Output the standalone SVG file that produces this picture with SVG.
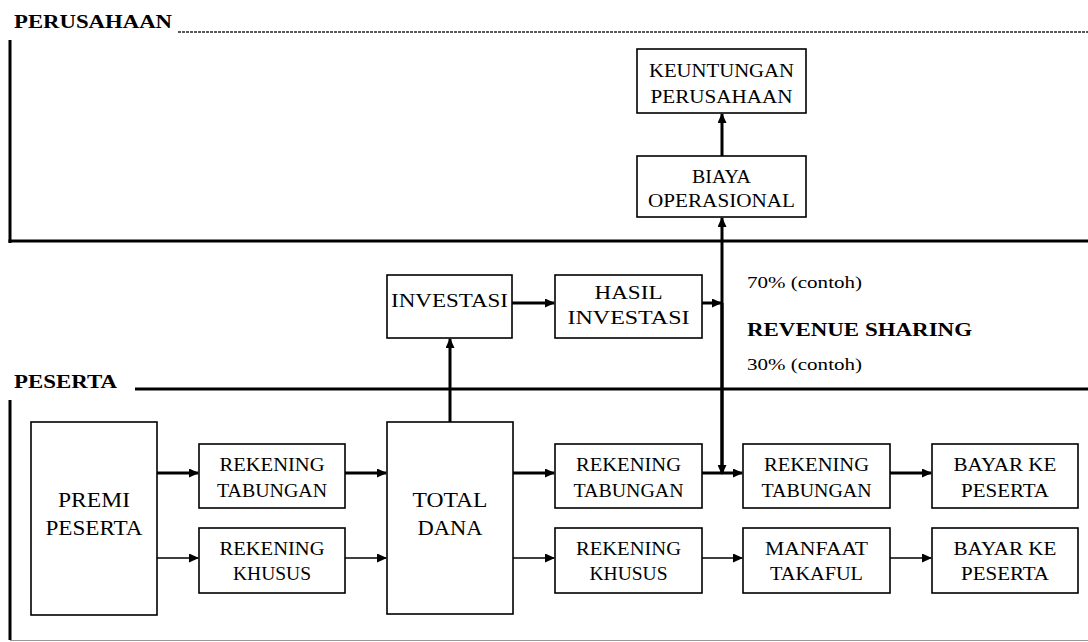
<svg xmlns="http://www.w3.org/2000/svg" width="1088" height="642" viewBox="0 0 1088 642">
<style>
.box{fill:#fff;stroke:#000;stroke-width:1.6}
.t{font-family:"Liberation Serif","Times New Roman",serif;font-size:18px;fill:#000;text-anchor:middle}
.big{font-size:21px}
.hd{font-family:"Liberation Serif","Times New Roman",serif;font-size:19px;font-weight:bold;fill:#000}
.lbl{font-family:"Liberation Serif","Times New Roman",serif;font-size:17px;fill:#000}
.thick{stroke:#000;stroke-width:3;fill:none}
.thin{stroke:#000;stroke-width:1.5;fill:none}
.frame{stroke:#000;stroke-width:3;fill:none}
</style>
<defs>
<marker id="ah" markerUnits="userSpaceOnUse" markerWidth="10" markerHeight="9" refX="9" refY="4.5" orient="auto">
<path d="M0,0 L10,4.5 L0,9 z" fill="#000"/>
</marker>
</defs>
<rect width="1088" height="642" fill="#fff"/>

<g id="frames">
<text class="hd" x="14" y="28" textLength="158" lengthAdjust="spacingAndGlyphs">PERUSAHAAN</text>
<line x1="178" y1="32" x2="1088" y2="32" stroke="#222" stroke-width="1.5" stroke-dasharray="3,1"/>
<line class="frame" x1="10" y1="40" x2="10" y2="243"/>
<line class="frame" x1="8.5" y1="241" x2="1088" y2="241"/>
<text class="hd" x="14" y="388" textLength="103" lengthAdjust="spacingAndGlyphs">PESERTA</text>
<line class="frame" x1="135" y1="389" x2="1088" y2="389"/>
<line class="frame" x1="10" y1="400" x2="10" y2="640"/>
<line x1="10" y1="640.5" x2="1088" y2="640.5" stroke="#999" stroke-width="1"/>
</g>

<g id="labels">
<text class="lbl" x="747" y="288" textLength="115" lengthAdjust="spacingAndGlyphs">70% (contoh)</text>
<text class="hd" x="747" y="336" textLength="225" lengthAdjust="spacingAndGlyphs">REVENUE SHARING</text>
<text class="lbl" x="747" y="370" textLength="115" lengthAdjust="spacingAndGlyphs">30% (contoh)</text>
</g>

<g id="connectors">
<line class="thick" x1="722" y1="156" x2="722" y2="114" marker-end="url(#ah)"/>
<line class="thick" x1="722" y1="473" x2="722" y2="218" marker-end="url(#ah)"/>
<line class="thick" x1="722" y1="303" x2="722" y2="474" marker-end="url(#ah)"/>
<line class="thick" x1="512" y1="303" x2="554" y2="303" marker-end="url(#ah)"/>
<line class="thick" x1="702" y1="303" x2="721" y2="303" marker-end="url(#ah)"/>
<line class="thick" x1="450" y1="422" x2="450" y2="339" marker-end="url(#ah)"/>
<line class="thick" x1="157" y1="473" x2="198" y2="473" marker-end="url(#ah)"/>
<line class="thin" x1="157" y1="558" x2="198" y2="558" marker-end="url(#ah)"/>
<line class="thick" x1="345" y1="473" x2="386" y2="473" marker-end="url(#ah)"/>
<line class="thin" x1="345" y1="558" x2="386" y2="558" marker-end="url(#ah)"/>
<line class="thick" x1="513" y1="473" x2="554" y2="473" marker-end="url(#ah)"/>
<line class="thin" x1="513" y1="558" x2="554" y2="558" marker-end="url(#ah)"/>
<line class="thick" x1="702" y1="473" x2="742" y2="473" marker-end="url(#ah)"/>
<line class="thin" x1="702" y1="558" x2="742" y2="558" marker-end="url(#ah)"/>
<line class="thick" x1="890" y1="473" x2="931" y2="473" marker-end="url(#ah)"/>
<line class="thin" x1="890" y1="558" x2="931" y2="558" marker-end="url(#ah)"/>
</g>

<g id="keuntungan">
<rect class="box" x="637" y="49" width="169" height="64"/>
<text class="t" x="721.5" y="77" textLength="145" lengthAdjust="spacingAndGlyphs">KEUNTUNGAN</text>
<text class="t" x="721.5" y="103" textLength="142" lengthAdjust="spacingAndGlyphs">PERUSAHAAN</text>
</g>
<g id="biaya">
<rect class="box" x="637" y="156" width="169" height="61"/>
<text class="t" x="721.5" y="183" textLength="59" lengthAdjust="spacingAndGlyphs">BIAYA</text>
<text class="t" x="721.5" y="207" textLength="147" lengthAdjust="spacingAndGlyphs">OPERASIONAL</text>
</g>
<g id="investasi">
<rect class="box" x="387" y="275" width="125" height="63"/>
<text class="t" x="449.5" y="307" textLength="117" lengthAdjust="spacingAndGlyphs">INVESTASI</text>
</g>
<g id="hasil">
<rect class="box" x="555" y="275" width="147" height="63"/>
<text class="t" x="628.5" y="299" textLength="68" lengthAdjust="spacingAndGlyphs">HASIL</text>
<text class="t" x="628.5" y="324" textLength="122" lengthAdjust="spacingAndGlyphs">INVESTASI</text>
</g>
<g id="premi">
<rect class="box" x="31" y="422" width="126" height="193"/>
<text class="t big" x="94" y="507" textLength="72" lengthAdjust="spacingAndGlyphs">PREMI</text>
<text class="t big" x="94" y="535" textLength="97" lengthAdjust="spacingAndGlyphs">PESERTA</text>
</g>
<g id="rek-tabungan-1">
<rect class="box" x="199" y="444" width="146" height="64"/>
<text class="t" x="272" y="471" textLength="105" lengthAdjust="spacingAndGlyphs">REKENING</text>
<text class="t" x="272" y="496.5" textLength="110" lengthAdjust="spacingAndGlyphs">TABUNGAN</text>
</g>
<g id="rek-khusus-1">
<rect class="box" x="199" y="528" width="146" height="65"/>
<text class="t" x="272" y="555" textLength="105" lengthAdjust="spacingAndGlyphs">REKENING</text>
<text class="t" x="272" y="580" textLength="78" lengthAdjust="spacingAndGlyphs">KHUSUS</text>
</g>
<g id="total-dana">
<rect class="box" x="387" y="422" width="126" height="192"/>
<text class="t big" x="450" y="507" textLength="75" lengthAdjust="spacingAndGlyphs">TOTAL</text>
<text class="t big" x="450" y="535" textLength="65" lengthAdjust="spacingAndGlyphs">DANA</text>
</g>
<g id="rek-tabungan-2">
<rect class="box" x="555" y="444" width="147" height="64"/>
<text class="t" x="628.5" y="471" textLength="105" lengthAdjust="spacingAndGlyphs">REKENING</text>
<text class="t" x="628.5" y="496.5" textLength="110" lengthAdjust="spacingAndGlyphs">TABUNGAN</text>
</g>
<g id="rek-khusus-2">
<rect class="box" x="555" y="528" width="147" height="65"/>
<text class="t" x="628.5" y="555" textLength="105" lengthAdjust="spacingAndGlyphs">REKENING</text>
<text class="t" x="628.5" y="580" textLength="78" lengthAdjust="spacingAndGlyphs">KHUSUS</text>
</g>
<g id="rek-tabungan-3">
<rect class="box" x="743" y="444" width="147" height="64"/>
<text class="t" x="816.5" y="471" textLength="105" lengthAdjust="spacingAndGlyphs">REKENING</text>
<text class="t" x="816.5" y="496.5" textLength="110" lengthAdjust="spacingAndGlyphs">TABUNGAN</text>
</g>
<g id="manfaat">
<rect class="box" x="743" y="528" width="147" height="65"/>
<text class="t" x="816.5" y="555" textLength="103" lengthAdjust="spacingAndGlyphs">MANFAAT</text>
<text class="t" x="816.5" y="580" textLength="93" lengthAdjust="spacingAndGlyphs">TAKAFUL</text>
</g>
<g id="bayar-1">
<rect class="box" x="932" y="444" width="146" height="64"/>
<text class="t" x="1005" y="471" textLength="103" lengthAdjust="spacingAndGlyphs">BAYAR KE</text>
<text class="t" x="1005" y="496.5" textLength="88" lengthAdjust="spacingAndGlyphs">PESERTA</text>
</g>
<g id="bayar-2">
<rect class="box" x="932" y="528" width="146" height="65"/>
<text class="t" x="1005" y="555" textLength="103" lengthAdjust="spacingAndGlyphs">BAYAR KE</text>
<text class="t" x="1005" y="580" textLength="88" lengthAdjust="spacingAndGlyphs">PESERTA</text>
</g>
</svg>
